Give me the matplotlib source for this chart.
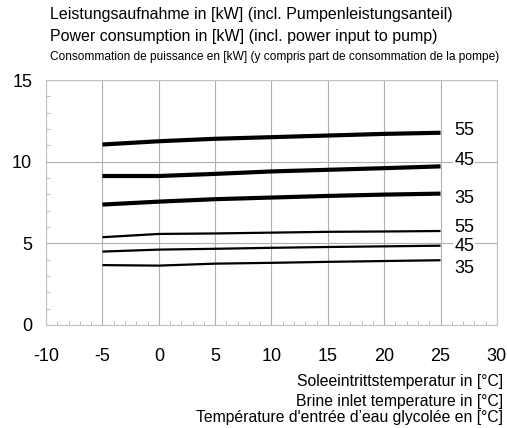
import matplotlib
matplotlib.use("Agg")
import matplotlib.pyplot as plt
from matplotlib.ticker import MultipleLocator

plt.rcParams['font.family'] = ['Liberation Sans', 'DejaVu Sans']
plt.rcParams['axes.unicode_minus'] = False

# brine inlet temperature [°C]
brine_temp = [-5, 0, 5, 10, 15, 20, 25]

# power consumption [kW], thick curves (high output stage)
p55_thick = [11.05, 11.25, 11.40, 11.50, 11.60, 11.70, 11.77]
p45_thick = [9.12, 9.12, 9.25, 9.40, 9.50, 9.60, 9.71]
p35_thick = [7.37, 7.55, 7.70, 7.80, 7.90, 7.98, 8.04]

# thin curves (low output stage)
p55_thin = [5.37, 5.57, 5.60, 5.65, 5.70, 5.72, 5.75]
p45_thin = [4.49, 4.61, 4.66, 4.72, 4.77, 4.81, 4.85]
p35_thin = [3.66, 3.63, 3.75, 3.80, 3.86, 3.91, 3.96]

flow_labels = ['55', '45', '35', '55', '45', '35']
label_y = [11.93, 10.05, 7.75, 5.95, 4.83, 3.47]

fig = plt.figure(figsize=(5.07, 4.28), dpi=100)
ax = fig.add_axes([0.091, 0.241, 0.889, 0.572])

for y in [p55_thick, p45_thick, p35_thick]:
    ax.plot(brine_temp, y, color='black', lw=3.0, solid_capstyle='butt')
for y in [p55_thin, p45_thin, p35_thin]:
    ax.plot(brine_temp, y, color='black', lw=1.6, solid_capstyle='butt')

for lab, ly in zip(flow_labels, label_y):
    ax.text(27.1, ly, lab, fontsize=13, ha='center', va='center',
            bbox=dict(facecolor='white', edgecolor='none', pad=0.5))

ax.set_xlim(-10, 30)
ax.set_ylim(0, 15)
ax.xaxis.set_major_locator(MultipleLocator(5))
ax.yaxis.set_major_locator(MultipleLocator(5))
ax.xaxis.set_minor_locator(MultipleLocator(1))
ax.yaxis.set_minor_locator(MultipleLocator(1))
ax.grid(True, which='major', color='#b0b0b0', lw=0.8)
ax.set_axisbelow(True)
ax.tick_params(which='major', length=0, labelsize=13, colors='black')
ax.tick_params(axis='x', which='major', pad=17)
ax.tick_params(axis='y', which='major', pad=10)
ax.tick_params(which='minor', direction='in', length=3, color='#b0b0b0')
for s in ax.spines.values():
    s.set_color('#c0c0c0')
    s.set_linewidth(0.8)

fig.text(0.098, 0.965, 'Leistungsaufnahme in [kW] (incl. Pumpenleistungsanteil)',
         fontsize=11.5, va='center')
fig.text(0.098, 0.914, 'Power consumption in [kW] (incl. power input to pump)',
         fontsize=11.5, va='center')
fig.text(0.098, 0.866,
         'Consommation de puissance en [kW] (y compris part de consommation de la pompe)',
         fontsize=8.6, va='center')

fig.text(0.992, 0.108, 'Soleeintrittstemperatur in [°C]', fontsize=11.3, ha='right', va='center')
fig.text(0.992, 0.063, 'Brine inlet temperature in [°C]', fontsize=11.3, ha='right', va='center')
fig.text(0.992, 0.024, "Température d'entrée d\u2019eau glycolée en [°C]", fontsize=11.3,
         ha='right', va='center')

fig.savefig('out.png', dpi=100)
